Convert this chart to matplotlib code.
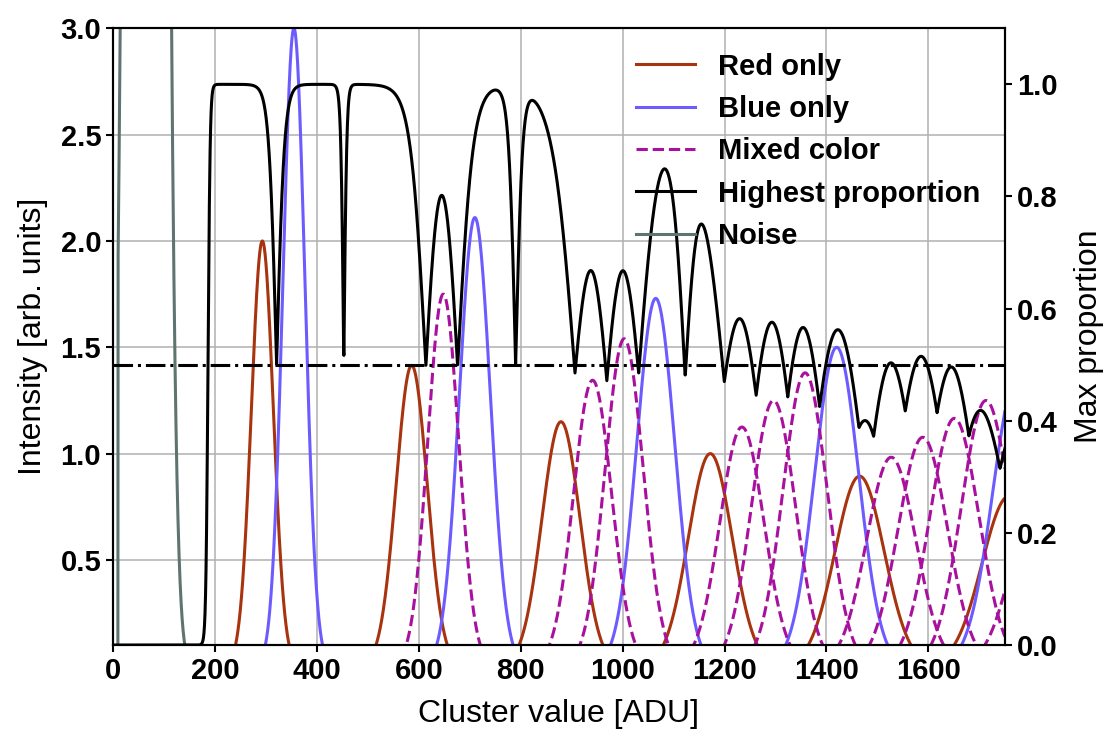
import numpy as np
import matplotlib.pyplot as plt

plt.rcParams['font.family'] = ['Liberation Sans', 'DejaVu Sans']

# peaks: centre [ADU], height [arb. units], width (sigma) [ADU]
red_centers = [293, 586, 879, 1172, 1465, 1758]
red_heights = [2.0, 1.415, 1.15, 1.0, 0.894, 0.80]
red_sigmas = [21.5, 30.4, 37.2, 43.0, 48.1, 52.7]

blue_centers = [355, 710, 1065, 1420, 1775]
blue_heights = [3.0, 2.11, 1.73, 1.50, 1.37]
blue_sigmas = [21.5, 30.4, 37.2, 43.0, 48.1]

mixed_centers = [648, 941, 1003, 1234, 1296, 1358, 1527, 1589, 1651, 1713, 1820]
mixed_heights = [1.75, 1.345, 1.54, 1.125, 1.25, 1.38, 0.983, 1.077, 1.166, 1.25, 0.86]
mixed_sigmas = [30.4, 37.2, 37.2, 43.0, 43.0, 43.0, 48.1, 48.1, 48.1, 48.1, 52.7]

noise_center = 64.5
noise_height = 41.6
noise_sigma = 22.0
noise_cut = 10  # noise curve only shown above this value

x = np.linspace(0, 1750, 3501)


def gauss(c, h, s):
    return h * np.exp(-(x - c) ** 2 / (2 * s ** 2))


red = [gauss(c, h, s) for c, h, s in zip(red_centers, red_heights, red_sigmas)]
blue = [gauss(c, h, s) for c, h, s in zip(blue_centers, blue_heights, blue_sigmas)]
mixed = [gauss(c, h, s) for c, h, s in zip(mixed_centers, mixed_heights, mixed_sigmas)]
noise = gauss(noise_center, noise_height, noise_sigma)

# highest proportion = biggest single peak / everything (noise included)
comps = np.array(red + blue + mixed)
prop = comps.max(axis=0) / (comps.sum(axis=0) + noise)

c_red = '#a8330f'
c_blue = '#6c5cff'
c_mixed = '#a8109e'
c_noise = '#5f7470'
lw = 2.2

fig = plt.figure(figsize=(11.19, 7.44), dpi=100)
ax = fig.add_axes([0.101, 0.133, 0.797, 0.829])
ax2 = ax.twinx()

for i, y in enumerate(red):
    ax.plot(x, y, color=c_red, lw=lw, label='Red only' if i == 0 else None)
for i, y in enumerate(blue):
    ax.plot(x, y, color=c_blue, lw=lw, label='Blue only' if i == 0 else None)
for i, y in enumerate(mixed):
    ax.plot(x, y, color=c_mixed, lw=lw, ls='--', label='Mixed color' if i == 0 else None)
ax.plot(x, np.where(x >= noise_cut, noise, 0), color=c_noise, lw=lw, label='Noise')

ax2.plot(x, prop, color='black', lw=lw, label='Highest proportion')
ax2.axhline(0.5, color='black', lw=lw, ls='-.')

ax.set_xlim(0, 1750)
ax.set_ylim(0.1, 3.0)
ax2.set_ylim(0, 1.1)
ax.set_xticks(range(0, 1700, 200))
ax.set_yticks([0.5, 1.0, 1.5, 2.0, 2.5, 3.0])
ax2.set_yticks([0.0, 0.2, 0.4, 0.6, 0.8, 1.0])
ax.grid(True, color='#b0b0b0', lw=1.1)
ax.set_axisbelow(True)

for a in (ax, ax2):
    a.tick_params(labelsize=21, width=1.5, length=5)
    for lab in a.get_xticklabels() + a.get_yticklabels():
        lab.set_fontweight('bold')
    for sp in a.spines.values():
        sp.set_linewidth(1.5)

ax.set_xlabel('Cluster value [ADU]', fontsize=23, labelpad=10)
ax.set_ylabel('Intensity [arb. units]', fontsize=23, labelpad=9)
ax2.set_ylabel('Max proportion', fontsize=23, labelpad=12)

h1, l1 = ax.get_legend_handles_labels()
h2, l2 = ax2.get_legend_handles_labels()
order = ['Red only', 'Blue only', 'Mixed color', 'Highest proportion', 'Noise']
hd = dict(zip(l1 + l2, h1 + h2))
ax2.legend([hd[k] for k in order], order, loc='upper right', frameon=False,
           prop={'size': 21, 'weight': 'bold'}, labelspacing=0.49,
           bbox_to_anchor=(1.002, 1.003))

fig.savefig('out.png', dpi=100)
